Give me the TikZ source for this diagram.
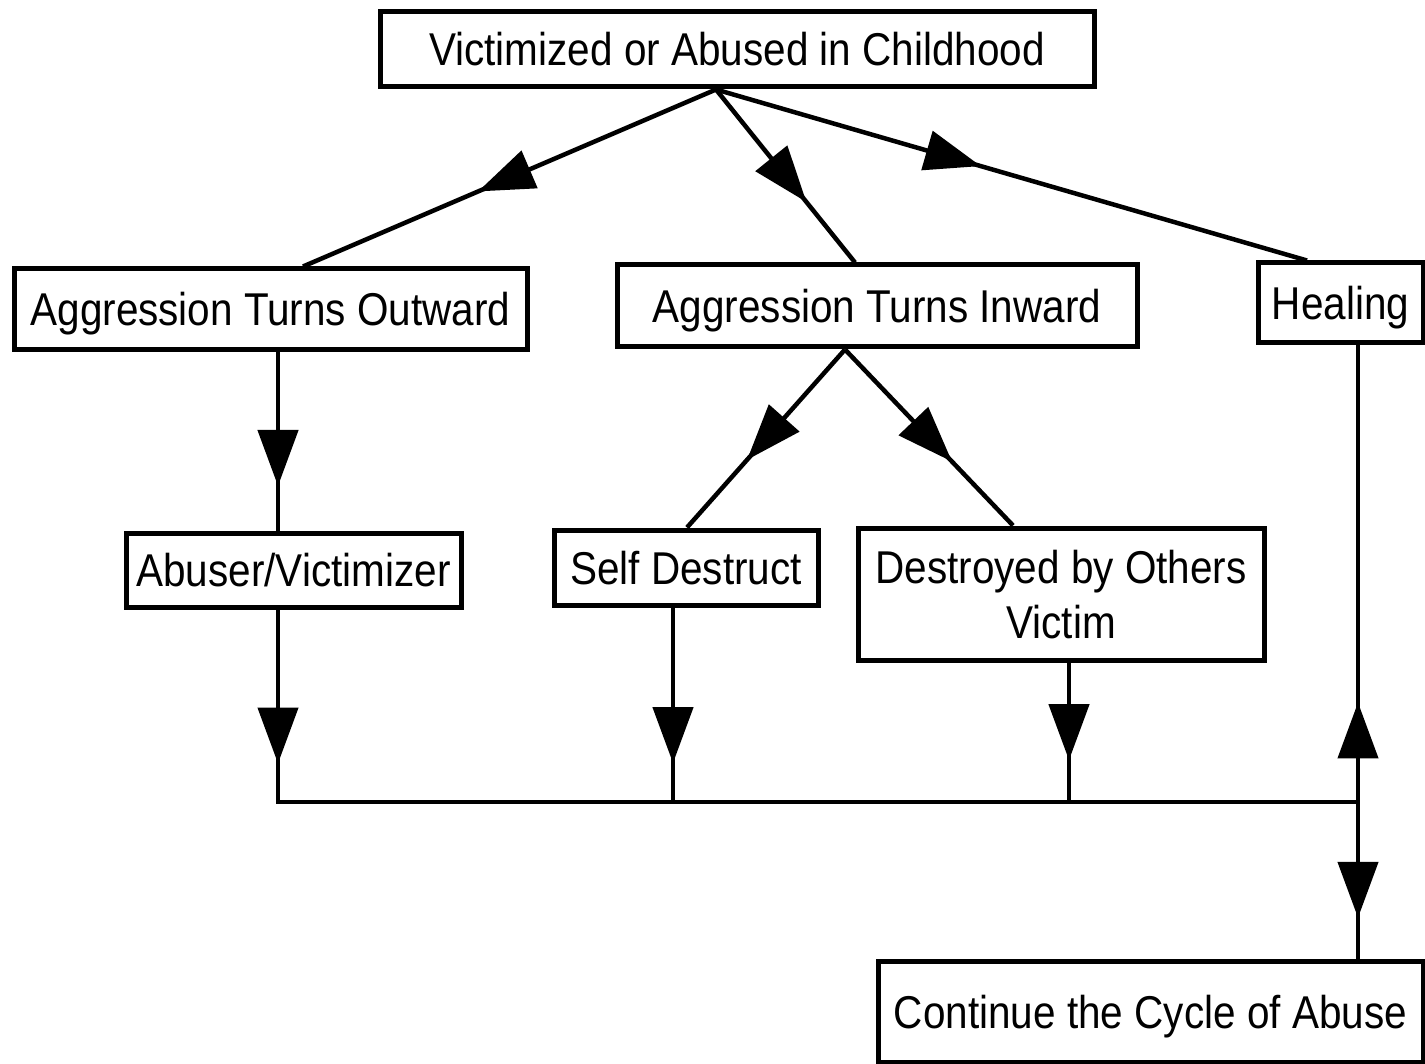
\documentclass[tikz,border=0pt]{standalone}
\usepackage{fontspec}
\setmainfont{Liberation Sans}[FakeStretch=0.88]
\usetikzlibrary{arrows.meta,decorations.markings}
\begin{document}
\begin{tikzpicture}[x=1pt,y=-1pt,
  box/.style={draw, line width=5pt, rectangle, inner sep=0pt, align=center,
    font=\fontsize{46}{55}\selectfont, text height=33pt, text depth=0pt},
  conn/.style={line width=4.5pt},
  midarrow/.style={postaction={decorate}, decoration={markings,
    mark=at position #1 with {\arrow{Triangle[length=56pt,width=40pt]}}}},
]
\useasboundingbox (0,0) rectangle (1425,1064);
\fill[white] (0,0) rectangle (1425,1064);

% boxes
\node[box, minimum width=714pt, minimum height=75pt] (top) at (737,49.5) {Victimized or Abused in Childhood};
\node[box, minimum width=513pt, minimum height=81pt] (out) at (270.5,309.5) {Aggression Turns Outward};
\node[box, minimum width=520pt, minimum height=82pt] (in) at (877,306) {Aggression Turns Inward};
\node[box, minimum width=165pt, minimum height=80pt] (heal) at (1340.5,303) {Healing};
\node[box, minimum width=335pt, minimum height=74pt] (abuser) at (293.5,570) {Abuser/Victimizer};
\node[box, minimum width=264pt, minimum height=75pt] (self) at (686,567.5) {Self Destruct};
\node[box, minimum width=406pt, minimum height=132pt, text height=88pt, text depth=0pt] (dest) at (1061,594) {Destroyed by Others\\Victim};
\node[box, minimum width=545pt, minimum height=101pt] (cont) at (1150.5,1011.5) {Continue the Cycle of Abuse};

% helper coordinates
\coordinate (j) at (1358,802);
\coordinate (tb) at ([xshift=-21pt]top.south);
\coordinate (ib) at ([xshift=-32pt]in.south);
\coordinate (ob) at ([xshift=7.5pt]out.south);
\coordinate (ab) at ([xshift=-15.5pt]abuser.south);
\coordinate (sd) at ([xshift=-13pt]self.south);
\coordinate (db) at ([xshift=8pt]dest.south);

% connectors from the top box
\draw[conn, midarrow=0.576] (tb) -- ([xshift=32.5pt]out.north);
\draw[conn, midarrow=0.65] (tb) -- ([xshift=-22pt]in.north);
\draw[conn, midarrow=0.448] (tb) -- ([xshift=-33.5pt]heal.north);

% inward branches
\draw[conn, midarrow=0.62] (ib) -- ([xshift=1pt]self.north);
\draw[conn, midarrow=0.637] (ib) -- ([xshift=-48pt]dest.north);

% outward branch
\draw[conn, midarrow=0.75] (ob) -- (ob |- abuser.north);

% drops to the bus
\draw[conn, midarrow=0.8] (ab) -- (ab |- j);
\draw[conn, midarrow=0.8] (sd) -- (sd |- j);
\draw[conn, midarrow=0.7] (db) -- (db |- j);
\draw[conn, line cap=rect] (ab |- j) -- (j);

% healing / continue
\draw[conn, midarrow=0.218] (j) -- (heal.south -| j);
\draw[conn, midarrow=0.74] (j) -- (cont.north -| j);
\end{tikzpicture}
\end{document}
